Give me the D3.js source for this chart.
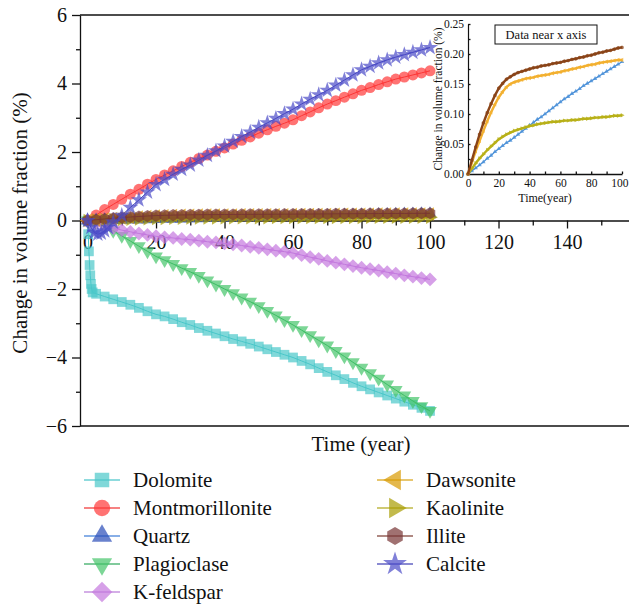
<!DOCTYPE html>
<html>
<head>
<meta charset="utf-8">
<script src="https://cdn.jsdelivr.net/npm/d3@7"></script>
<style>
  body { margin: 0; background: #fff; }
  .axis path, .axis line { stroke: #111; stroke-width: 1.3; }
</style>
</head>
<body>
<svg id="chart" width="629" height="606"></svg>
<script>
// time steps shared by most series (years)
var years = [0, 2.5, 5, 7.5, 10, 12.5, 15, 17.5, 20, 22.5, 25, 27.5, 30, 32.5, 35, 37.5, 40, 42.5, 45, 47.5,
  50, 52.5, 55, 57.5, 60, 62.5, 65, 67.5, 70, 72.5, 75, 77.5, 80, 82.5, 85, 87.5, 90, 92.5, 95, 97.5, 100];

var dolomiteYears = [0, 0.2, 0.4, 0.6, 0.8, 1, 1.2, 1.5, 2.5, 5, 7.5, 10, 12.5, 15, 17.5, 20, 22.5, 25, 27.5, 30,
  32.5, 35, 37.5, 40, 42.5, 45, 47.5, 50, 52.5, 55, 57.5, 60, 62.5, 65, 67.5, 70, 72.5, 75, 77.5, 80, 82.5, 85,
  87.5, 90, 92.5, 95, 97.5, 100];
var dolomite = [0, -0.4, -0.9, -1.3, -1.6, -1.85, -2.0, -2.1, -2.14, -2.22, -2.3, -2.38, -2.46, -2.55, -2.65, -2.74,
  -2.8, -2.88, -2.97, -3.05, -3.14, -3.22, -3.3, -3.38, -3.46, -3.53, -3.6, -3.68, -3.76, -3.84, -3.92, -4.0,
  -4.1, -4.2, -4.31, -4.42, -4.52, -4.63, -4.74, -4.84, -4.93, -5.02, -5.11, -5.2, -5.29, -5.38, -5.47, -5.56];

var montmorillonite = [0, 0.16, 0.32, 0.47, 0.62, 0.77, 0.91, 1.06, 1.2, 1.33, 1.45, 1.58, 1.7, 1.81, 1.91, 2.02,
  2.12, 2.23, 2.34, 2.44, 2.55, 2.65, 2.75, 2.84, 2.94, 3.06, 3.17, 3.29, 3.4, 3.5, 3.6, 3.7, 3.8, 3.88, 3.97,
  4.05, 4.13, 4.19, 4.25, 4.31, 4.37];

var quartz = [0, 0.005, 0.01, 0.015, 0.02, 0.026, 0.031, 0.037, 0.042, 0.047, 0.052, 0.056, 0.061, 0.066, 0.071,
  0.076, 0.081, 0.086, 0.091, 0.095, 0.1, 0.105, 0.11, 0.115, 0.12, 0.125, 0.129, 0.134, 0.138, 0.142, 0.147,
  0.151, 0.155, 0.159, 0.163, 0.167, 0.171, 0.175, 0.179, 0.183, 0.187];

var plagioclase = [0, -0.05, -0.15, -0.3, -0.45, -0.6, -0.75, -0.9, -1.05, -1.16, -1.27, -1.39, -1.5, -1.62, -1.75,
  -1.87, -2.0, -2.12, -2.25, -2.37, -2.5, -2.64, -2.77, -2.91, -3.05, -3.2, -3.35, -3.5, -3.65, -3.81, -3.97,
  -4.14, -4.3, -4.46, -4.62, -4.79, -4.95, -5.11, -5.27, -5.42, -5.56];

var kfeldspar = [0, -0.07, -0.15, -0.22, -0.28, -0.33, -0.38, -0.42, -0.46, -0.49, -0.51, -0.54, -0.56, -0.59, -0.62,
  -0.64, -0.67, -0.7, -0.73, -0.77, -0.8, -0.84, -0.88, -0.91, -0.95, -1.01, -1.07, -1.12, -1.18, -1.23, -1.28,
  -1.33, -1.38, -1.42, -1.46, -1.51, -1.55, -1.6, -1.64, -1.68, -1.72];

var dawsonite = [0, 0.019, 0.038, 0.055, 0.072, 0.088, 0.103, 0.116, 0.128, 0.137, 0.145, 0.15, 0.153, 0.155, 0.157,
  0.159, 0.16, 0.161, 0.163, 0.164, 0.165, 0.166, 0.168, 0.169, 0.17, 0.172, 0.173, 0.175, 0.176, 0.178, 0.179,
  0.181, 0.182, 0.183, 0.185, 0.186, 0.187, 0.188, 0.189, 0.19, 0.19];

var kaolinite = [0, 0.009, 0.018, 0.026, 0.033, 0.04, 0.046, 0.052, 0.058, 0.062, 0.066, 0.069, 0.072, 0.074, 0.076,
  0.078, 0.08, 0.081, 0.083, 0.084, 0.085, 0.086, 0.087, 0.087, 0.088, 0.089, 0.089, 0.09, 0.09, 0.091, 0.092,
  0.092, 0.093, 0.094, 0.094, 0.095, 0.095, 0.096, 0.097, 0.097, 0.098];

var illite = [0, 0.023, 0.045, 0.066, 0.085, 0.102, 0.117, 0.131, 0.143, 0.151, 0.158, 0.162, 0.166, 0.169, 0.171,
  0.173, 0.175, 0.177, 0.178, 0.18, 0.181, 0.182, 0.184, 0.185, 0.186, 0.188, 0.189, 0.191, 0.192, 0.194, 0.195,
  0.197, 0.198, 0.2, 0.202, 0.203, 0.205, 0.206, 0.208, 0.21, 0.211];

var calciteYears = [0, 1, 2, 3, 4, 5, 6, 7.5, 10, 12.5, 15, 17.5, 20, 22.5, 25, 27.5, 30, 32.5, 35, 37.5, 40, 42.5,
  45, 47.5, 50, 52.5, 55, 57.5, 60, 62.5, 65, 67.5, 70, 72.5, 75, 77.5, 80, 82.5, 85, 87.5, 90, 92.5, 95, 97.5, 100];
var calcite = [0, -0.2, -0.35, -0.4, -0.37, -0.3, -0.2, -0.05, 0.15, 0.38, 0.6, 0.83, 1.05, 1.2, 1.35, 1.49, 1.62,
  1.76, 1.9, 2.03, 2.17, 2.31, 2.45, 2.58, 2.72, 2.85, 2.98, 3.12, 3.25, 3.4, 3.54, 3.67, 3.8, 3.95, 4.1, 4.25,
  4.4, 4.5, 4.6, 4.69, 4.77, 4.84, 4.91, 4.98, 5.05];

var names = ["Dolomite", "Montmorillonite", "Quartz", "Plagioclase", "K-feldspar",
             "Dawsonite", "Kaolinite", "Illite", "Calcite"];
var colors = ["#4ac7c9", "#ff3838", "#2a4bb8", "#44c46a", "#c577de",
              "#d89a00", "#a89c00", "#773535", "#4a4ac7"];
var lineColors = ["#45c4c8", "#f03030", "#3a7ad8", "#2ea85a", "#b878d8",
                  "#d8a010", "#b0a818", "#7a3a30", "#3c3cb4"];
var insetNames = ["Illite", "Dawsonite", "Kaolinite", "Quartz"];
var insetColors = ["#8a4418", "#f2b030", "#b8b018", "#4a90d8"];

var serif = "'Liberation Serif', 'DejaVu Serif', 'Times New Roman', serif";

var series = [
  {name: "Dolomite", x: dolomiteYears, y: dolomite},
  {name: "Montmorillonite", x: years, y: montmorillonite},
  {name: "Quartz", x: years, y: quartz},
  {name: "Plagioclase", x: years, y: plagioclase},
  {name: "K-feldspar", x: years, y: kfeldspar},
  {name: "Dawsonite", x: years, y: dawsonite},
  {name: "Kaolinite", x: years, y: kaolinite},
  {name: "Illite", x: years, y: illite},
  {name: "Calcite", x: calciteYears, y: calcite}
];

// hexagon symbol (pointy top)
var symbolHexagon = {
  draw: function(ctx, size) {
    var r = Math.sqrt(size / 2.598);
    for (var i = 0; i < 6; i++) {
      var a = Math.PI / 3 * i - Math.PI / 2;
      if (i == 0) ctx.moveTo(r * Math.cos(a), r * Math.sin(a));
      else ctx.lineTo(r * Math.cos(a), r * Math.sin(a));
    }
    ctx.closePath();
  }
};
// symbol type, rotation, size factor for each mineral
var shapes = {
  "Dolomite": [d3.symbolSquare, 0, 1],
  "Montmorillonite": [d3.symbolCircle, 0, 1],
  "Quartz": [d3.symbolTriangle, 0, 0.85],
  "Plagioclase": [d3.symbolTriangle, 180, 0.85],
  "K-feldspar": [d3.symbolSquare, 45, 1],
  "Dawsonite": [d3.symbolTriangle, -90, 0.85],
  "Kaolinite": [d3.symbolTriangle, 90, 0.85],
  "Illite": [symbolHexagon, 0, 1],
  "Calcite": [d3.symbolStar, 0, 0.85]
};
function marker(sel, name, size) {
  var s = shapes[name];
  sel.attr("d", d3.symbol().type(s[0]).size(size * s[2]));
  return s[1];
}

var svg = d3.select("#chart");

var x = d3.scaleLinear().domain([-2.2, 158.1]).range([80, 629]);
var y = d3.scaleLinear().domain([-6, 6]).range([426, 15]);

var fmt = function(d) { return d < 0 ? "\u2212" + Math.abs(d) : d; };

// frame
svg.append("line").attr("x1", 80).attr("x2", 629).attr("y1", 15).attr("y2", 15)
  .attr("stroke", "#111").attr("stroke-width", 1.3);
svg.append("line").attr("x1", 80).attr("x2", 629).attr("y1", 426).attr("y2", 426)
  .attr("stroke", "#111").attr("stroke-width", 1.3);

// y axis
var yAxis = svg.append("g").attr("class", "axis").attr("transform", "translate(80,0)")
  .call(d3.axisLeft(y).tickValues([-6, -4, -2, 0, 2, 4, 6]).tickFormat(fmt).tickSize(8).tickPadding(5).tickSizeOuter(0));
yAxis.selectAll("text").style("font-size", "20px");
svg.append("g").attr("class", "axis").attr("transform", "translate(80,0)")
  .call(d3.axisLeft(y).tickValues([-5, -3, -1, 1, 3, 5]).tickFormat("").tickSize(4).tickSizeOuter(0))
  .select(".domain").remove();

// x axis on y = 0
var xAxis = svg.append("g").attr("class", "axis").attr("transform", "translate(0," + y(0) + ")")
  .call(d3.axisBottom(x).tickValues([0, 20, 40, 60, 80, 100, 120, 140]).tickSize(8).tickPadding(6).tickSizeOuter(0));
xAxis.selectAll("text").style("font-size", "20px");
svg.append("g").attr("class", "axis").attr("transform", "translate(0," + y(0) + ")")
  .call(d3.axisBottom(x).tickValues([10, 30, 50, 70, 90, 110, 130, 150]).tickFormat("").tickSize(5))
  .select(".domain").remove();

// series
var line = d3.line().x(function(d) { return x(d[0]); }).y(function(d) { return y(d[1]); });
series.forEach(function(s, i) {
  var pts = s.x.map(function(v, j) { return [v, s.y[j]]; });
  var g = svg.append("g");
  g.append("path").datum(pts).attr("d", line)
    .attr("fill", "none").attr("stroke", lineColors[i]).attr("stroke-width", 1);
  g.selectAll("path.m").data(pts).enter().append("path").attr("class", "m")
    .each(function(d) {
      var rot = marker(d3.select(this), s.name, 95);
      d3.select(this).attr("transform", "translate(" + x(d[0]) + "," + y(d[1]) + ") rotate(" + rot + ")");
    })
    .attr("fill", colors[i]).attr("fill-opacity", 0.7).attr("stroke", "none");
});

// axis titles
svg.append("text").attr("x", 361).attr("y", 451).attr("text-anchor", "middle")
  .style("font-size", "21px").text("Time (year)");
svg.append("text").attr("transform", "translate(27,223) rotate(-90)").attr("text-anchor", "middle")
  .style("font-size", "21px").text("Change in volume fraction (%)");

// legend
names.forEach(function(n, i) {
  var col = i < 5 ? 0 : 1;
  var row = i < 5 ? i : i - 5;
  var lx = col == 0 ? 102 : 395;
  var ly = 480 + row * 28;
  svg.append("line").attr("x1", lx - 18).attr("x2", lx + 18).attr("y1", ly).attr("y2", ly)
    .attr("stroke", lineColors[i]).attr("stroke-opacity", 0.8).attr("stroke-width", 1.3);
  var p = svg.append("path");
  var rot = marker(p, n, 210);
  p.attr("transform", "translate(" + lx + "," + ly + ") rotate(" + rot + ")")
    .attr("fill", colors[i]).attr("fill-opacity", 0.7);
  svg.append("text").attr("x", lx + 31).attr("y", ly + 7).style("font-size", "21px").text(n);
});

// inset
var ix = d3.scaleLinear().domain([0, 100]).range([468, 622]);
var iy = d3.scaleLinear().domain([0, 0.25]).range([174, 24]);
var iyAxis = svg.append("g").attr("class", "axis").attr("transform", "translate(468,0)")
  .call(d3.axisLeft(iy).tickValues([0, 0.05, 0.1, 0.15, 0.2, 0.25]).tickFormat(d3.format(".2f"))
    .tickSize(0).tickPadding(4).tickSizeOuter(0));
iyAxis.selectAll("text").style("font-size", "11.5px");
iyAxis.selectAll("path").style("stroke-width", 1.2);
svg.append("g").attr("class", "axis").attr("transform", "translate(468,0)")
  .call(d3.axisRight(iy).tickValues([0.025, 0.05, 0.075, 0.1, 0.125, 0.15, 0.175, 0.2, 0.225, 0.25]).tickFormat("").tickSize(2.5))
  .select(".domain").remove();
var ixAxis = svg.append("g").attr("class", "axis").attr("transform", "translate(0,174)")
  .call(d3.axisBottom(ix).tickValues([0, 20, 40, 60, 80, 100]).tickSize(0).tickPadding(5).tickSizeOuter(0));
ixAxis.selectAll("text").style("font-size", "11.5px");
ixAxis.selectAll("text").filter(function(d) { return d == 100; }).attr("text-anchor", "end").attr("dx", "6");
svg.append("g").attr("class", "axis").attr("transform", "translate(0,174)")
  .call(d3.axisTop(ix).tickValues([10, 20, 30, 40, 50, 60, 70, 80, 90, 100]).tickFormat("").tickSize(2.5))
  .select(".domain").remove();

var insetData = {"Illite": illite, "Dawsonite": dawsonite, "Kaolinite": kaolinite, "Quartz": quartz};
var iline = d3.line().x(function(d) { return ix(d[0]); }).y(function(d) { return iy(d[1]); });
insetNames.slice().reverse().forEach(function(n) {
  var c = insetColors[insetNames.indexOf(n)];
  var pts = years.map(function(v, j) { return [v, insetData[n][j]]; });
  svg.append("path").datum(pts).attr("d", iline)
    .attr("fill", "none").attr("stroke", c).attr("stroke-width", n == "Quartz" ? 1.3 : 2.4);
  svg.append("g").selectAll("path").data(pts).enter().append("path")
    .each(function(d) {
      var rot = marker(d3.select(this), n, 10);
      d3.select(this).attr("transform", "translate(" + ix(d[0]) + "," + iy(d[1]) + ") rotate(" + rot + ")");
    })
    .attr("fill", c).attr("fill-opacity", 0.8);
});

svg.append("text").attr("x", 545).attr("y", 202).attr("text-anchor", "middle")
  .style("font-size", "12px").text("Time(year)");
svg.append("text").attr("transform", "translate(442,99) rotate(-90)").attr("text-anchor", "middle")
  .style("font-size", "11.5px").text("Change in volume fraction (%)");
svg.append("rect").attr("x", 495).attr("y", 25).attr("width", 102).attr("height", 19)
  .attr("fill", "#fff").attr("stroke", "#111").attr("stroke-width", 1);
svg.append("text").attr("x", 546).attr("y", 39).attr("text-anchor", "middle")
  .style("font-size", "12.5px").text("Data near x axis");

// serif everywhere
svg.selectAll("text").style("font-family", serif).style("fill", "#111");
</script>
</body>
</html>
